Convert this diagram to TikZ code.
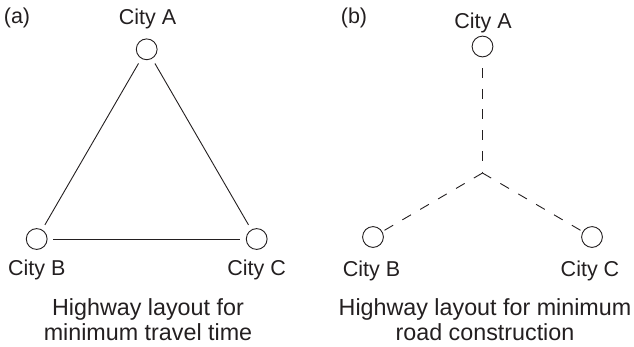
\documentclass[tikz,border=0pt]{standalone}
\usepackage{fontspec}
\setmainfont{Liberation Sans}
\usetikzlibrary{positioning}
\definecolor{inkblack}{RGB}{35,31,32}
\newcommand{\labelsize}{\fontsize{21.5}{25}\selectfont}
\newcommand{\capsize}{\fontsize{23.3}{24.5}\selectfont}

\begin{document}
\begin{tikzpicture}[x=1pt, y=-1pt, inkblack,
    city/.style={circle, draw, minimum size=20.8pt, inner sep=0pt, line width=0.9pt},
    citylabel/.style={font=\labelsize, anchor=base, inner sep=0pt},
    caption/.style={font=\capsize, align=center, anchor=base, inner sep=0pt},
    road/.style={line width=0.9pt, shorten <=5.5pt, shorten >=5.5pt},
    dashroad/.style={line width=0.9pt, dash pattern=on 10pt off 10.7pt}]
    \useasboundingbox (0,0) rectangle (634,346);
    % (a) direct highways between the cities
    \begin{scope}
      \node[citylabel] (tagA) at (17,23) {(a)};
      \node[city] (A1) at (146.7,49.3) {};
      \node[city] (B1) at (36.7,239) {};
      \node[city] (C1) at (256.7,239) {};
      \node[citylabel] (labA1) at (147.5,24) {City A};
      \node[citylabel] (labB1) at (36.7,275) {City B};
      \node[citylabel] (labC1) at (256.7,275) {City C};
      \draw[road] (A1) -- (B1);
      \draw[road] (A1) -- (C1);
      \draw[road] (B1) -- (C1);
      % base anchor sits on the last line
      \node[caption] (cap1) at (148,340) {Highway layout for\\minimum travel time};
    \end{scope}
    % (b) roads meeting at one junction
    \begin{scope}
      \node[citylabel] (tagB) at (354,23) {(b)};
      \node[city] (A2) at (482.5,46.5) {};
      \node[city] (B2) at (373,237) {};
      \node[city] (C2) at (592,237) {};
      \coordinate (J) at (482.5,173);
      \node[citylabel] (labA2) at (483,28) {City A};
      \node[citylabel] (labB2) at (371.5,276) {City B};
      \node[citylabel] (labC2) at (590,276) {City C};
      \draw[dashroad, dash phase=10pt] (A2) -- (J);
      \draw[dashroad] (J) -- (B2);
      \draw[dashroad] (J) -- (C2);
      \node[caption] (cap2) at (485,340) {Highway layout for minimum\\road construction};
    \end{scope}
  \end{tikzpicture}
\end{document}
